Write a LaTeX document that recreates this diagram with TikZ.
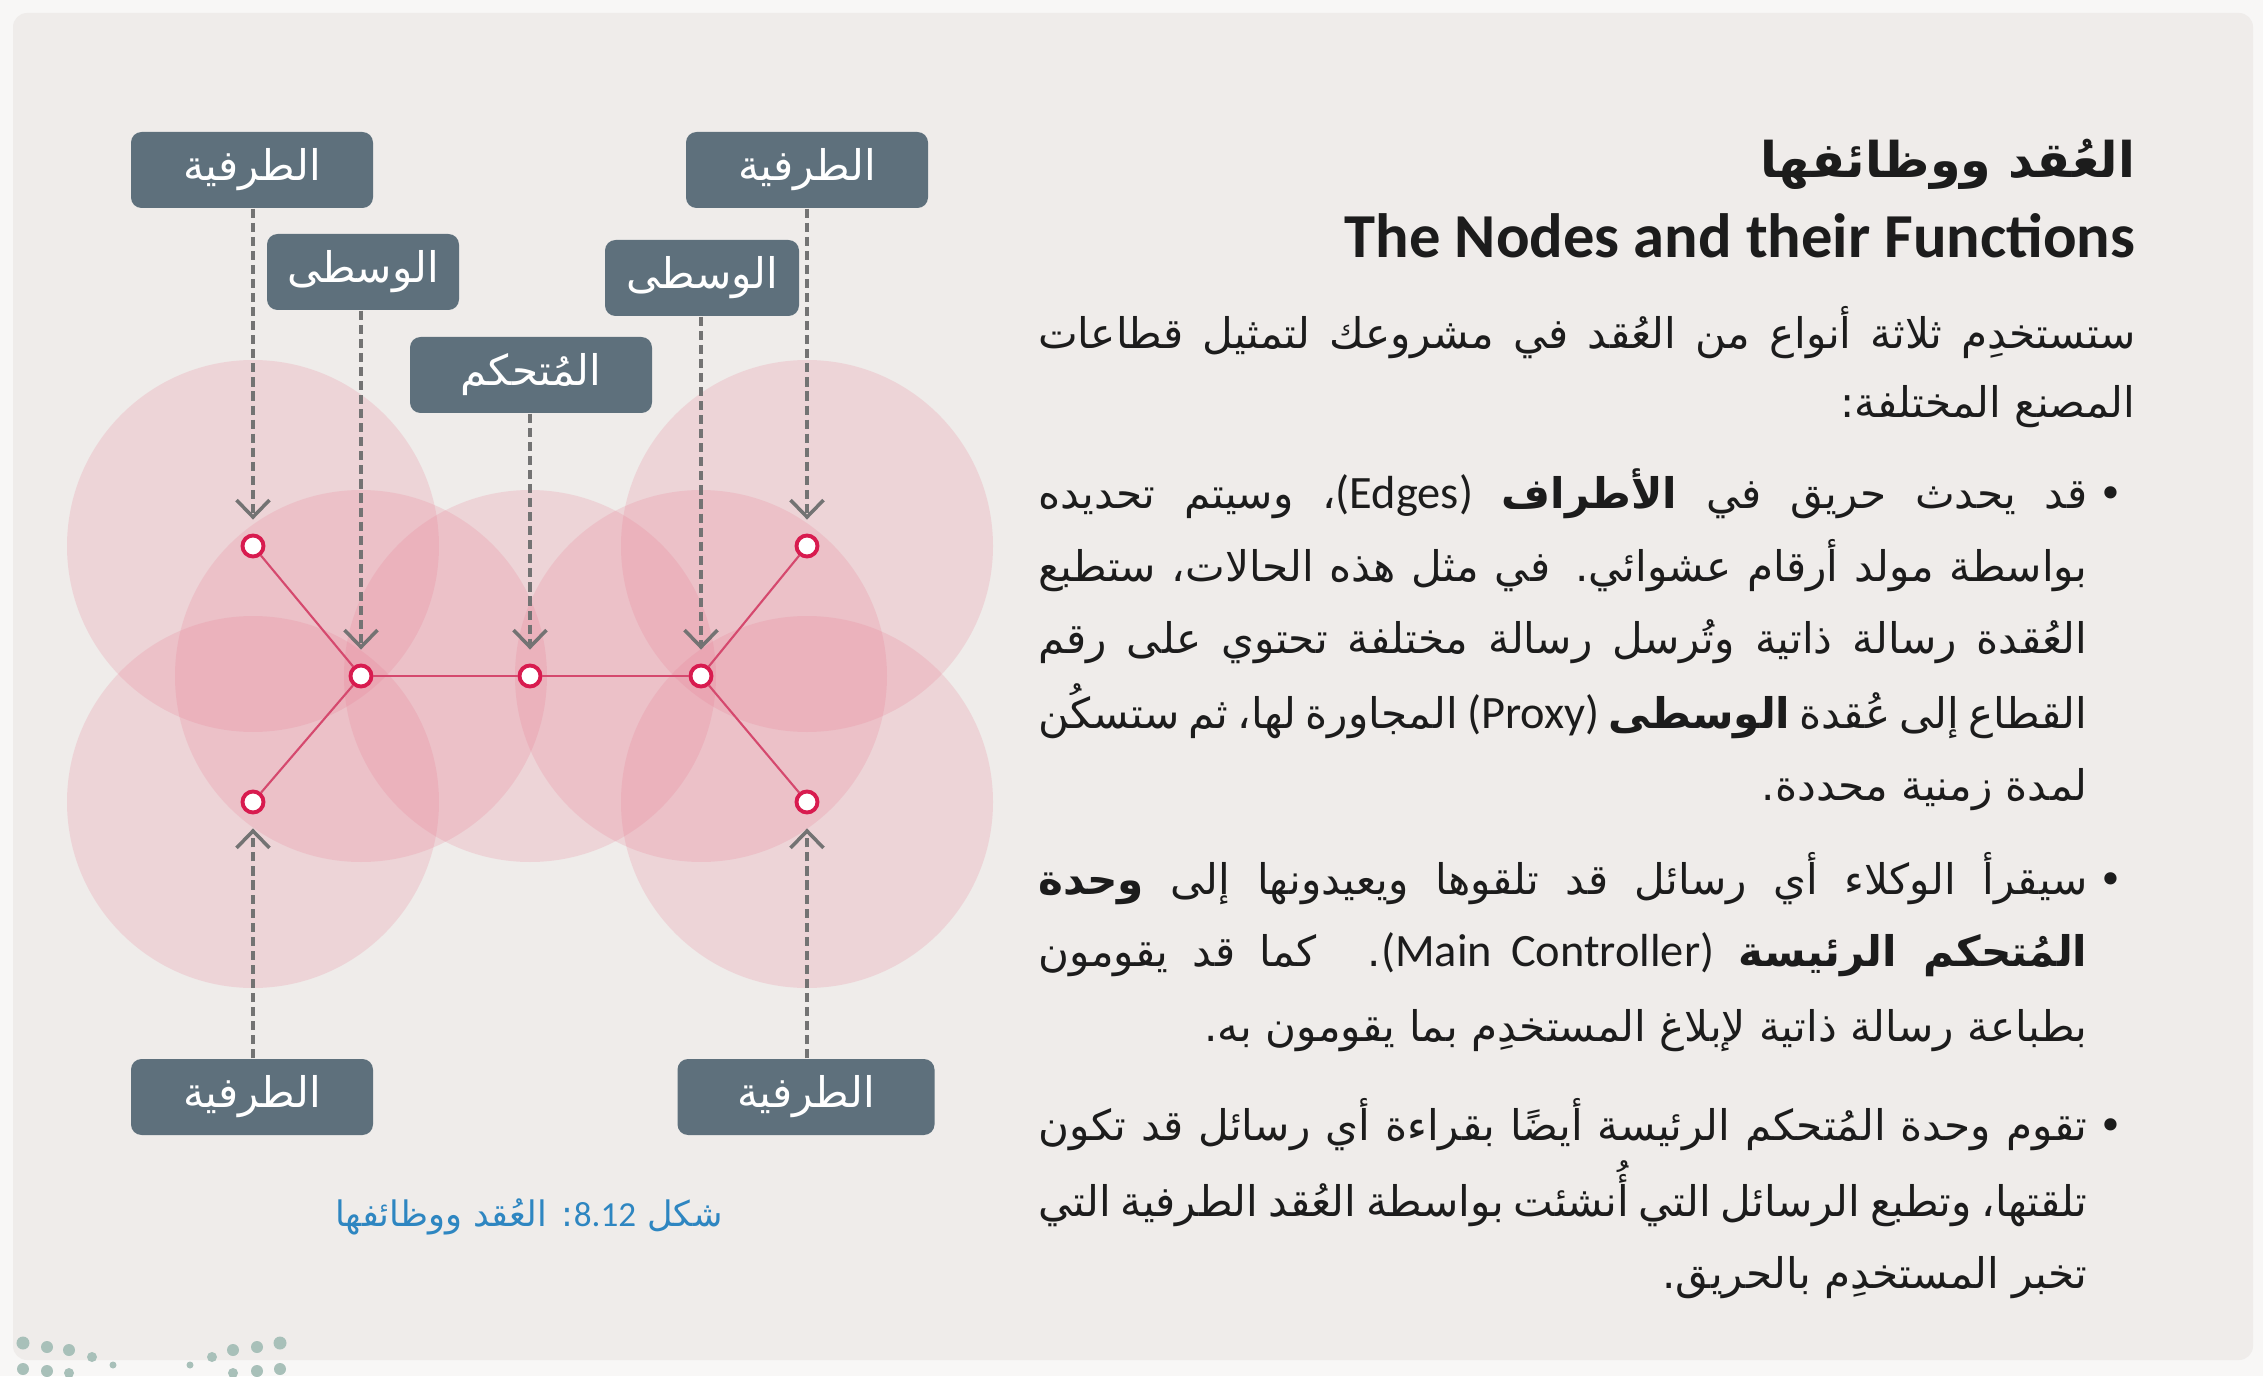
\documentclass[tikz,border=0pt]{standalone}
\usepackage{fontspec}
\setmainfont{Carlito}
\newfontfamily\arabicfont[Script=Arabic]{DejaVu Sans}
\newfontfamily\latinfont{Carlito}
\newfontfamily\inlinefont[Scale=1.1]{Carlito}
\TeXXeTstate=1
\usetikzlibrary{arrows.meta,backgrounds}
\pgfdeclarelayer{zones}
\pgfsetlayers{background,zones,main}
\definecolor{ndouter}{HTML}{F8F7F6}
\definecolor{ndpanel}{HTML}{EFECEA}
\definecolor{ndslate}{HTML}{5E707C}
\definecolor{ndgrey}{HTML}{737373}
\definecolor{ndcrimson}{HTML}{D81B4F}
\definecolor{ndlink}{HTML}{D5496E}
\definecolor{ndzone}{HTML}{E8788F}
\definecolor{ndblue}{HTML}{2E86C1}
\definecolor{ndink}{HTML}{1C1C1C}
\definecolor{ndlogo}{HTML}{A8C0B9}
\newcommand\lat[1]{{\inlinefont\beginL #1\endL}}
\newcommand\jline[2]{\hbox to #1{#2}}
\tikzset{
  sensor/.style={circle,draw=ndcrimson,fill=white,line width=1.1pt,inner sep=0pt,minimum size=2.1mm},
  zone/.style={fill=ndzone,fill opacity=.2},
  link/.style={draw=ndlink,line width=.6pt},
  role/.style={rectangle,rounded corners=3pt,fill=ndslate,text=white,minimum height=7.6mm,inner sep=0pt,font=\arabicfont\fontsize{12}{12}\selectfont},
  pointer/.style={-{Straight Barb[length=1.7mm,width=3.3mm]},draw=ndgrey,line width=1pt,dash pattern=on 2.6pt off 1.4pt,shorten >=1.4mm},
  body/.style={anchor=base east,inner sep=0pt,text=ndink,font=\arabicfont\fontsize{12}{14}\selectfont},
  bullet/.style={anchor=base,inner sep=0pt,text=ndink,font=\arabicfont\fontsize{12}{14}\selectfont},
  caption/.style={anchor=base,inner sep=0pt,text=ndblue,font=\arabicfont\fontsize{10}{12}\selectfont},
}

\begin{document}
\begin{tikzpicture}
  \useasboundingbox (0,0) rectangle (22.63,13.76);
  \begin{pgfonlayer}{background}
    \fill[ndouter] (0,0) rectangle (22.63,13.76);
    \fill[ndpanel,rounded corners=4pt] (0.13,0.16) rectangle (22.53,13.63);
    \fill[ndlogo] (0.23,0.33) circle (0.065) (0.47,0.29) circle (0.06) (0.69,0.26) circle (0.06) (0.92,0.19) circle (0.05) (1.13,0.11) circle (0.035) (1.90,0.11) circle (0.035) (2.12,0.19) circle (0.05) (2.33,0.26) circle (0.06) (2.57,0.29) circle (0.06) (2.80,0.33) circle (0.065);
    \fill[ndlogo] (0.23,0.07) circle (0.06) (0.47,0.05) circle (0.06) (0.69,0.03) circle (0.05) (2.33,0.03) circle (0.05) (2.57,0.05) circle (0.06) (2.80,0.07) circle (0.06);
  \end{pgfonlayer}
  \node[role,minimum width=24.2mm] (lbltl) at (2.52,12.06) {\beginR الطرفية\endR};
  \node[role,minimum width=19.2mm] (lblml) at (3.63,11.04) {\beginR الوسطى\endR};
  \node[role,minimum width=24.2mm] (lblctl) at (5.31,10.01) {\beginR المُتحكم\endR};
  \node[role,minimum width=19.4mm] (lblmr) at (7.02,10.98) {\beginR الوسطى\endR};
  \node[role,minimum width=24.2mm] (lbltr) at (8.07,12.06) {\beginR الطرفية\endR};
  \node[role,minimum width=24.2mm] (lblbl) at (2.52,2.79) {\beginR الطرفية\endR};
  \node[role,minimum width=25.7mm] (lblbr) at (8.06,2.79) {\beginR الطرفية\endR};
  \node[sensor] (tl) at (2.53,8.30) {};
  \node[sensor] (ml) at (3.61,7.00) {};
  \node[sensor] (ctl) at (5.30,7.00) {};
  \node[sensor] (mr) at (7.01,7.00) {};
  \node[sensor] (tr) at (8.07,8.30) {};
  \node[sensor] (bl) at (2.53,5.74) {};
  \node[sensor] (br) at (8.07,5.74) {};
  \begin{pgfonlayer}{zones}
    \fill[zone] (tl) circle (1.86);
    \fill[zone] (bl) circle (1.86);
    \fill[zone] (ml) circle (1.86);
    \fill[zone] (ctl) circle (1.86);
    \fill[zone] (mr) circle (1.86);
    \fill[zone] (tr) circle (1.86);
    \fill[zone] (br) circle (1.86);
  \end{pgfonlayer}
  \draw[link] (tl)--(ml)--(bl);
  \draw[link] (ml)--(ctl)--(mr);
  \draw[link] (tr)--(mr)--(br);
  \draw[pointer] (lbltl.south -| tl)--(tl);
  \draw[pointer] (lblml.south -| ml)--(ml);
  \draw[pointer] (lblctl.south -| ctl)--(ctl);
  \draw[pointer] (lblmr.south -| mr)--(mr);
  \draw[pointer] (lbltr.south -| tr)--(tr);
  \draw[pointer] (lblbl.north -| bl)--(bl);
  \draw[pointer] (lblbr.north -| br)--(br);
  \node[caption] (cap) at (5.29,1.50) {\beginR شكل {\latinfont\beginL 8.12\endL}: العُقد ووظائفها\endR};
  \node[anchor=base east,inner sep=0pt,text=ndink,font=\arabicfont\bfseries\fontsize{14}{16}\selectfont] (head) at (21.36,11.98) {\beginR العُقد ووظائفها\endR};
  \node[anchor=base east,inner sep=0pt,text=ndink,font=\latinfont\bfseries\fontsize{17.8}{20}\selectfont] (heden) at (21.36,11.18) {The Nodes and their Functions};
  \node[body] (intro1) at (21.36,10.27) {\jline{10.97cm}{\beginR ستستخدِم ثلاثة أنواع من العُقد في مشروعك لتمثيل قطاعات\endR}};
  \node[body] (intro2) at (21.36,9.58) {\beginR المصنع المختلفة:\endR};
  \node[bullet] (dot1) at (21.11,8.67) {•};
  \node[body] (one1) at (20.88,8.67) {\jline{10.49cm}{\beginR قد يحدث حريق في {\bfseries الأطراف} \lat{(Edges)}، وسيتم تحديده\endR}};
  \node[body] (one2) at (20.88,7.95) {\jline{10.49cm}{\beginR بواسطة مولد أرقام عشوائي. في مثل هذه الحالات، ستطبع\endR}};
  \node[body] (one3) at (20.88,7.23) {\jline{10.49cm}{\beginR العُقدة رسالة ذاتية وتُرسل رسالة مختلفة تحتوي على رقم\endR}};
  \node[body] (one4) at (20.88,6.48) {\jline{10.49cm}{\beginR القطاع إلى عُقدة {\bfseries الوسطى} \lat{(Proxy)} المجاورة لها، ثم ستسكُن\endR}};
  \node[body] (one5) at (20.88,5.76) {\beginR لمدة زمنية محددة.\endR};
  \node[bullet] (dot2) at (21.11,4.82) {•};
  \node[body] (two1) at (20.88,4.82) {\jline{10.49cm}{\beginR سيقرأ الوكلاء أي رسائل قد تلقوها ويعيدونها إلى {\bfseries وحدة}\endR}};
  \node[body] (two2) at (20.88,4.10) {\jline{10.49cm}{\beginR {\bfseries المُتحكم الرئيسة} \lat{(Main Controller)}. كما قد يقومون\endR}};
  \node[body] (two3) at (20.88,3.35) {\beginR بطباعة رسالة ذاتية لإبلاغ المستخدِم بما يقومون به.\endR};
  \node[bullet] (dot3) at (21.11,2.36) {•};
  \node[body] (three1) at (20.88,2.36) {\jline{10.49cm}{\beginR تقوم وحدة المُتحكم الرئيسة أيضًا بقراءة أي رسائل قد تكون\endR}};
  \node[body] (three2) at (20.88,1.60) {\jline{10.49cm}{\beginR تلقتها، وتطبع الرسائل التي أُنشئت بواسطة العُقد الطرفية التي\endR}};
  \node[body] (three3) at (20.88,0.88) {\beginR تخبر المستخدِم بالحريق.\endR};
\end{tikzpicture}
\end{document}
